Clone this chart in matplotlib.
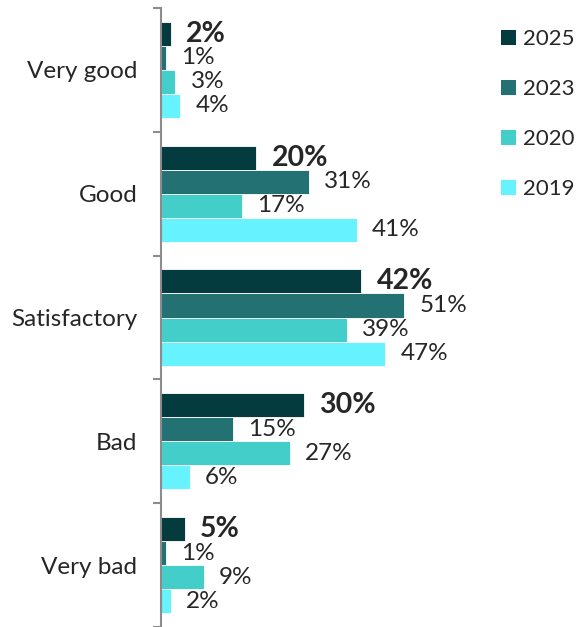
import matplotlib
matplotlib.use("Agg")
import matplotlib.pyplot as plt
import numpy as np
from matplotlib.patches import Patch

plt.rcParams['font.family'] = ['Lato', 'DejaVu Sans']

categories = ['Very good', 'Good', 'Satisfactory', 'Bad', 'Very bad']
years = ['2025', '2023', '2020', '2019']
v2025 = [2, 20, 42, 30, 5]
v2023 = [1, 31, 51, 15, 1]
v2020 = [3, 17, 39, 27, 9]
v2019 = [4, 41, 47, 6, 2]
colors = ['#033b3e', '#237173', '#44cec9', '#66f2fe']

series = [v2025, v2023, v2020, v2019]
text_col = '#262626'
axis_col = '#8c8c8c'

fig = plt.figure(figsize=(5.8, 6.27), dpi=100)
ax = fig.add_axes([161 / 580, 0, 419 / 580, 619 / 627])

bar_h = 0.194
y = np.arange(len(categories))
for i, (vals, c) in enumerate(zip(series, colors)):
    pos = y + (i - 1.5) * bar_h
    ax.barh(pos, vals, height=bar_h, color=c, edgecolor='white', linewidth=0.6)
    for p, v in zip(pos, vals):
        if i == 0:
            ax.annotate(f'{v}%', (v, p), xytext=(11, 0), textcoords='offset points',
                        va='center', ha='left', fontsize=20.5, fontweight='bold', color=text_col)
        else:
            ax.annotate(f'{v}%', (v, p), xytext=(11, 0), textcoords='offset points',
                        va='center', ha='left', fontsize=17.5, color=text_col)

ax.set_xlim(0, 419 / 4.77)
ax.set_ylim(len(categories) - 0.5, -0.5)
ax.set_xticks([])
ax.set_yticks(y)
ax.set_yticklabels(categories, fontsize=17.5, color=text_col)
ax.tick_params(axis='y', which='major', length=0, pad=17)
ax.set_yticks(np.arange(-0.5, len(categories) + 0.5, 1), minor=True)
ax.tick_params(axis='y', which='minor', length=6, width=1.5, color=axis_col)
for s in ['top', 'right', 'bottom']:
    ax.spines[s].set_visible(False)
ax.spines['left'].set_color(axis_col)
ax.spines['left'].set_linewidth(1.5)

handles = [Patch(facecolor=c, label=yr) for c, yr in zip(colors, years)]
fig.legend(handles=handles, loc='upper left', bbox_to_anchor=(501 / 580, 1 - 29 / 627),
           frameon=False, fontsize=16, handlelength=0.68, handleheight=0.68,
           handletextpad=0.3, labelspacing=1.35, borderpad=0, borderaxespad=0,
           labelcolor=text_col)

fig.savefig('out.png', dpi=100)
